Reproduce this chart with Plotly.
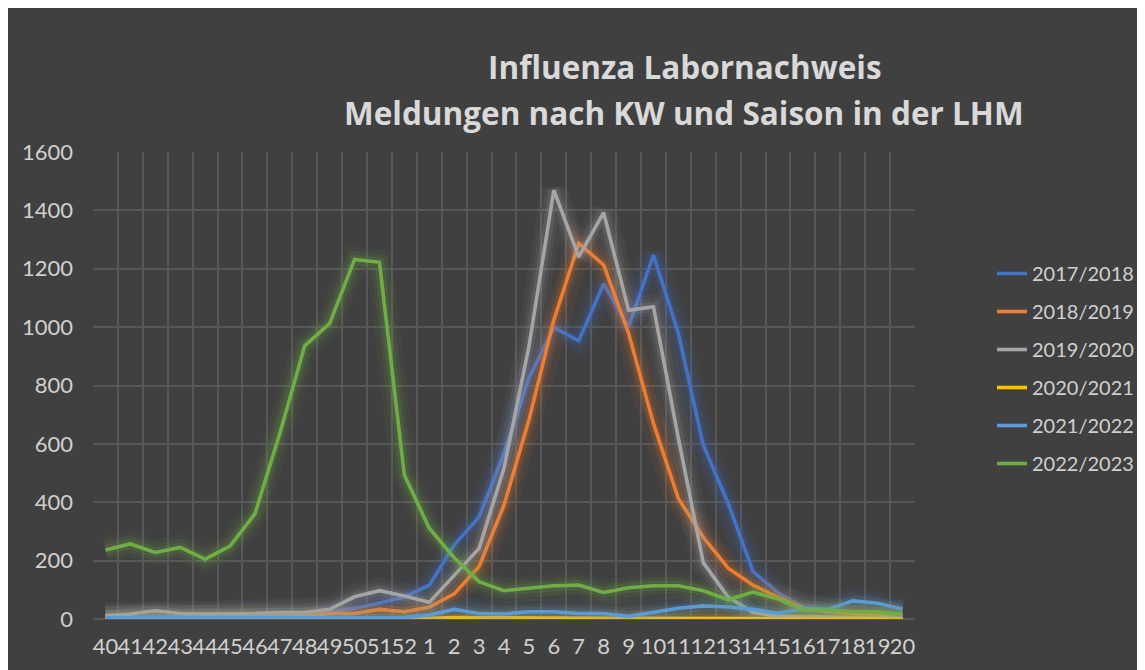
import plotly.graph_objects as go

weeks = [str(w) for w in range(40, 53)] + [str(w) for w in range(1, 21)]

s2017_2018 = [5, 5, 6, 5, 5, 6, 8, 10, 12, 25, 37, 55, 75, 116, 253, 350, 568, 825, 999, 953,
              1148, 1001, 1247, 979, 596, 396, 162, 90, 40, 30, 25, 20, 15]
s2018_2019 = [2, 2, 3, 3, 3, 4, 5, 8, 10, 19, 19, 33, 25, 40, 86, 180, 390, 682, 1024, 1287,
              1213, 979, 670, 413, 280, 174, 116, 74, 37, 25, 20, 15, 10]
s2019_2020 = [11, 17, 28, 19, 17, 17, 19, 22, 22, 33, 76, 97, 79, 57, 150, 242, 516, 933, 1469, 1241,
              1392, 1058, 1070, 620, 193, 75, 22, 10, 8, 6, 5, 5, 4]
s2020_2021 = [0, 0, 0, 0, 0, 0, 0, 0, 0, 0, 0, 0, 1, 2, 5, 4, 3, 3, 3, 3,
              2, 2, 2, 2, 2, 2, 2, 2, 2, 2, 2, 2, 1]
s2021_2022 = [4, 4, 4, 4, 4, 4, 4, 4, 4, 4, 4, 4, 5, 14, 33, 19, 17, 25, 25, 19,
              19, 9, 22, 37, 45, 41, 33, 20, 35, 33, 62, 54, 33]
s2022_2023 = [236, 257, 228, 245, 205, 250, 360, 636, 936, 1013, 1232, 1222, 493, 311, 210, 128, 97, 105, 114, 116,
              91, 107, 114, 114, 97, 66, 92, 69, 31, 30, 25, 25, 14]

series_names = ["2017/2018", "2018/2019", "2019/2020", "2020/2021", "2021/2022", "2022/2023"]
series_values = [s2017_2018, s2018_2019, s2019_2020, s2020_2021, s2021_2022, s2022_2023]
series_colors = [(68, 114, 196), (237, 125, 49), (165, 165, 165), (255, 192, 0), (91, 155, 213), (112, 173, 71)]

BG = "#404040"
GRID = "#575757"
TXT = "#D0D0D0"
FONT = "Lato"

fig = go.Figure()

glow_layers = [(26, 0.06), (17, 0.09), (10, 0.15)]
for name, vals, col in zip(series_names, series_values, series_colors):
    r, g, b = col
    for w, a in glow_layers:
        fig.add_trace(go.Scatter(
            x=weeks, y=vals, mode="lines", showlegend=False, hoverinfo="skip",
            line=dict(color=f"rgba({r},{g},{b},{a})", width=w),
        ))
    fig.add_trace(go.Scatter(
        x=weeks, y=vals, mode="lines", name=name, legendgroup=name,
        line=dict(color=f"rgb({r},{g},{b})", width=3.6),
    ))

# figure coordinates (page is offset by the 8px body margin)
W, H = 1137, 662
L, R, T, B = 85, 907, 144, 611
pw, ph = R - L, B - T

def px_x(p):
    return (p - L) / pw

def px_y(p):
    return (B - p) / ph

fig.add_annotation(text="<b>Influenza Labornachweis</b>", xref="paper", yref="paper",
                   x=px_x(677), y=px_y(58.5), xanchor="center", yanchor="middle",
                   showarrow=False, font=dict(family="Open Sans", size=31.5, color="#D9D9D9"))
fig.add_annotation(text="<b>Meldungen nach KW und Saison in der LHM</b>", xref="paper", yref="paper",
                   x=px_x(676), y=px_y(104.5), xanchor="center", yanchor="middle",
                   showarrow=False, font=dict(family="Open Sans", size=31.5, color="#D9D9D9"))

fig.update_layout(
    width=W, height=H,
    margin=dict(l=L, r=W - R, t=T, b=H - B, pad=0, autoexpand=False),
    paper_bgcolor=BG,
    plot_bgcolor=BG,
    font=dict(family=FONT, color=TXT, size=22),
    showlegend=True,
    legend=dict(
        xref="container", yref="container",
        x=984 / W, y=1 - 246 / H, xanchor="left", yanchor="top",
        bgcolor="rgba(0,0,0,0)", font=dict(family=FONT, size=20, color=TXT),
        traceorder="grouped", tracegroupgap=9,
    ),
)

fig.update_xaxes(
    type="category", tickson="boundaries", showgrid=True, gridcolor=GRID, gridwidth=1.5,
    tickmode="array", tickvals=weeks, ticktext=weeks,
    ticks="", tickangle=0, showline=False, zeroline=False,
    tickfont=dict(family=FONT, size=22, color=TXT), ticklabelstandoff=12,
    range=[-0.5, len(weeks) - 0.5],
)
fig.update_yaxes(
    range=[0, 1600], dtick=200, showgrid=True, gridcolor=GRID, gridwidth=1.5,
    zeroline=True, zerolinecolor=GRID, zerolinewidth=1.5, showline=False,
    ticks="", tickfont=dict(family=FONT, size=22, color=TXT), ticklabelstandoff=19,
)

fig.write_html("out.html")
